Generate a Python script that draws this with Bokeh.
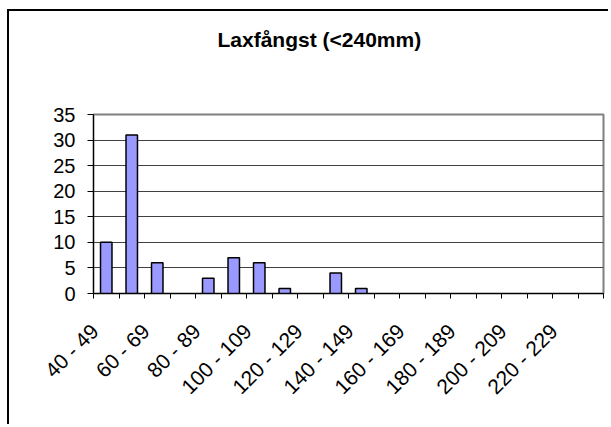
import math
from bokeh.plotting import figure
from bokeh.models import FixedTicker, Title
from bokeh.embed import file_html
from bokeh.resources import INLINE

# ---- data ----
categories = ["40 - 49", "50 - 59", "60 - 69", "70 - 79", "80 - 89", "90 - 99",
              "100 - 109", "110 - 119", "120 - 129", "130 - 139", "140 - 149",
              "150 - 159", "160 - 169", "170 - 179", "180 - 189", "190 - 199",
              "200 - 209", "210 - 219", "220 - 229", "230 - 239"]
counts = [10, 31, 6, 0, 3, 7, 6, 1, 0, 4, 1, 0, 0, 0, 0, 0, 0, 0, 0, 0]
y_ticks = [0, 5, 10, 15, 20, 25, 30, 35]
title_text = "Laxfångst (<240mm)"

FONT = "Liberation Sans"
n = len(categories)
xs = [i + 0.5 for i in range(n)]
bar_line_alpha = [1 if c > 0 else 0 for c in counts]

p = figure(width=601, height=415, output_backend="svg", toolbar_location=None,
           x_range=(0, n), y_range=(0, 35),
           min_border_left=84, min_border_right=7, min_border_top=103,
           min_border_bottom=133)
p.styles = {"border-left": "2px solid black", "border-top": "2px solid black",
            "margin-left": "7px", "margin-top": "9px"}

# empty spacer between plot frame and the title
p.add_layout(Title(text=" ", text_font_size="1px", standoff=56), "above")

p.title = Title(text=title_text, align="left", text_font=FONT,
                text_font_size="21px", text_font_style="bold",
                text_color="black", offset=124, standoff=10)

p.vbar(x=xs, top=counts, width=0.45, fill_color="#9999FF",
       line_color="black", line_width=1.5, line_alpha=bar_line_alpha)

# x axis: tick marks at category borders, labels on every other category
xa = p.xaxis[0]
label_pos = [xs[i] - 0.45 for i in range(0, n, 2)]
xa.ticker = FixedTicker(ticks=label_pos, minor_ticks=list(range(n + 1)))
xa.major_label_overrides = {xs[i] - 0.45: categories[i] for i in range(0, n, 2)}
xa.major_tick_line_color = None
xa.minor_tick_out = 5
xa.minor_tick_in = 0
xa.minor_tick_line_color = "black"
xa.axis_line_color = "black"
xa.major_label_orientation = math.pi / 4
xa.major_label_text_font = FONT
xa.major_label_text_font_size = "21px"
xa.major_label_text_color = "black"
xa.major_label_standoff = 28

ya = p.yaxis[0]
ya.ticker = FixedTicker(ticks=y_ticks)
ya.major_tick_out = 6
ya.major_tick_in = 0
ya.minor_tick_line_color = None
ya.axis_line_color = "black"
ya.major_tick_line_color = "black"
ya.major_label_text_font = FONT
ya.major_label_text_font_size = "20px"
ya.major_label_text_color = "black"
ya.major_label_standoff = 12

p.xgrid.grid_line_color = None
p.ygrid.grid_line_color = "#404040"
p.ygrid.grid_line_width = 1
p.outline_line_color = "#808080"
p.outline_line_width = 2

open("out.html", "w").write(file_html(p, INLINE))
